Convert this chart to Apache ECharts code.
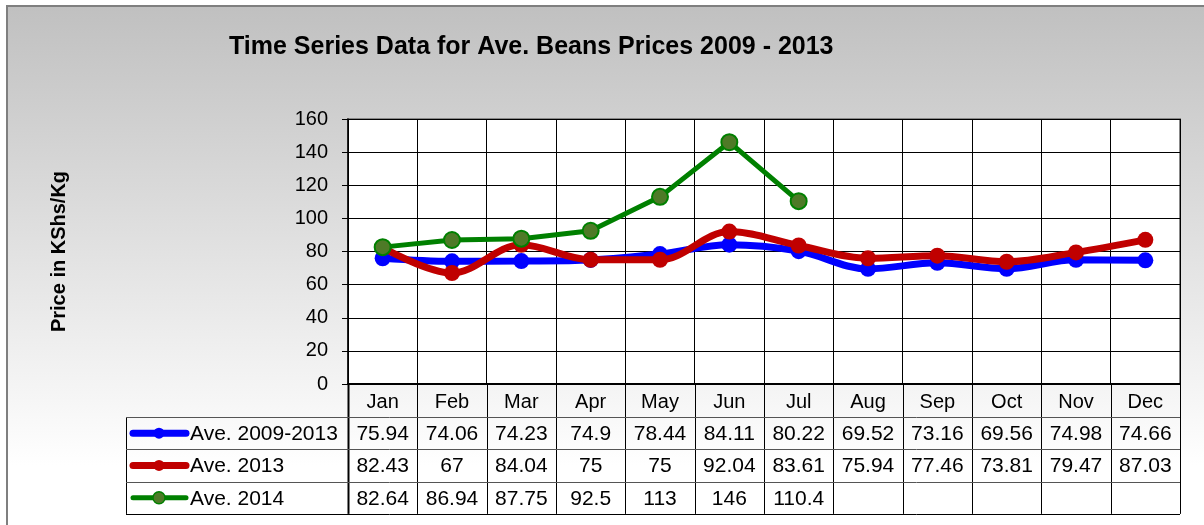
<!DOCTYPE html>
<html><head><meta charset="utf-8">
<script src="https://cdn.jsdelivr.net/npm/echarts@6/dist/echarts.min.js"></script>
<style>html,body{margin:0;padding:0;background:#fff}#c{width:1204px;height:525px}</style>
</head><body><div id="c"></div>
<script>
const chartTitle = 'Time Series Data for Ave. Beans Prices 2009 - 2013';
const yAxisName = 'Price in KShs/Kg';
const months = ['Jan','Feb','Mar','Apr','May','Jun','Jul','Aug','Sep','Oct','Nov','Dec'];
const seriesNames = ['Ave. 2009-2013','Ave. 2013','Ave. 2014'];
const ave20092013 = [75.94,74.06,74.23,74.9,78.44,84.11,80.22,69.52,73.16,69.56,74.98,74.66];
const ave2013 = [82.43,67,84.04,75,75,92.04,83.61,75.94,77.46,73.81,79.47,87.03];
const ave2014 = [82.64,86.94,87.75,92.5,113,146,110.4,null,null,null,null,null];
const yMin = 0, yMax = 160, yStep = 20;

const FONT = 'Liberation Sans, Arial, sans-serif';
const seriesData = [ave20092013, ave2013, ave2014];
const lineColors = ['#0000ff','#c00000','#008000'];
const markerFill = ['#0000ff','#c00000','#4e7a27'];
const lineWidths = [7,7,5];
const smoothFlags = [0.35,0.35,false];

const chart = echarts.init(document.getElementById('c'), null, {renderer:'canvas'});

const option = {
  animation:false,
  backgroundColor:'#ffffff',
  title:{
    text:chartTitle, left:224, top:30,
    textStyle:{fontFamily:FONT, fontSize:25, fontWeight:'bold', color:'#000'}
  },
  grid:{left:348, top:119, width:832, height:265, show:true, backgroundColor:'#ffffff', borderColor:'#888888', borderWidth:2, containLabel:false},
  xAxis:{
    type:'category', data:months, boundaryGap:true,
    axisLine:{show:true, lineStyle:{color:'#000', width:2}},
    axisTick:{show:false},
    axisLabel:{fontFamily:FONT, fontSize:20, color:'#000', margin:8, interval:0},
    splitLine:{show:true, interval:0, lineStyle:{color:'#000', width:1}}
  },
  yAxis:{
    type:'value', min:yMin, max:yMax, interval:yStep,
    name:yAxisName, nameLocation:'middle', nameGap:279, nameRotate:90,
    nameTextStyle:{fontFamily:FONT, fontSize:20, fontWeight:'bold', color:'#000'},
    axisLine:{show:true, lineStyle:{color:'#000', width:1.5}},
    axisTick:{show:true, length:6, lineStyle:{color:'#000'}},
    axisLabel:{fontFamily:FONT, fontSize:20, color:'#000', margin:20},
    splitLine:{show:true, lineStyle:{color:'#000', width:1}}
  },
  series: seriesNames.map((n,i)=>({
    name:n, type:'line', data:seriesData[i], smooth:smoothFlags[i],
    symbol:'circle', symbolSize:16, showSymbol:true,
    lineStyle:{color:lineColors[i], width:lineWidths[i]},
    itemStyle:{color:markerFill[i], borderColor:lineColors[i], borderWidth:i===2?2:0},
    z:2+i
  }))
};
chart.setOption(option);

// Build data table below the plot, from the axis scales
function buildTable(){
  const els = [];
  els.push({type:'rect', z:-10, silent:true, shape:{x:7, y:6, width:1220, height:540},
    style:{fill:new echarts.graphic.LinearGradient(0,0,0,1,[{offset:0,color:'#c0c0c0'},{offset:0.85,color:'#ffffff'},{offset:1,color:'#ffffff'}]), stroke:'#7f7f7f', lineWidth:2}});
  const x0 = chart.convertToPixel({xAxisIndex:0}, 0);
  const x1 = chart.convertToPixel({xAxisIndex:0}, 1);
  const cw = x1 - x0;
  const left = x0 - cw/2;
  const right = left + cw*months.length;
  const yBase = chart.convertToPixel({yAxisIndex:0}, yMin);
  const headH = 33, rowH = 32.3;
  const tableLeft = 126;
  const bottom = yBase + headH + rowH*seriesNames.length;
  for (let i=0;i<=months.length;i++){
    const x = Math.round(left + cw*i) + 0.5;
    els.push({type:'line', silent:true, shape:{x1:x, y1:yBase, x2:x, y2:bottom}, style:{stroke:'#000', lineWidth:i===0?2:1}});
  }
  els.push({type:'line', silent:true, shape:{x1:tableLeft+0.5, y1:yBase+headH, x2:tableLeft+0.5, y2:bottom}, style:{stroke:'#000', lineWidth:1}});
  for (let r=0;r<=seriesNames.length;r++){
    const y = Math.round(yBase + headH + rowH*r) + 0.5;
    els.push({type:'line', silent:true, shape:{x1:tableLeft, y1:y, x2:right, y2:y}, style:{stroke:r===seriesNames.length?'#000':'#555', lineWidth:1}});
  }
  seriesNames.forEach((n,r)=>{
    const cy = yBase + headH + rowH*r + rowH/2;
    els.push({type:'line', silent:true, shape:{x1:133, y1:cy, x2:186, y2:cy}, style:{stroke:lineColors[r], lineWidth:r===2?5:7, lineCap:'round'}});
    els.push({type:'circle', silent:true, shape:{cx:159, cy:cy, r:r===2?6:5.5}, style:{fill:markerFill[r], stroke:lineColors[r], lineWidth:r===2?1.5:0}});
    els.push({type:'text', silent:true, x:190, y:cy+1, style:{text:n, font:'21px '+FONT, fill:'#000', align:'left', verticalAlign:'middle', textAlign:'left', textVerticalAlign:'middle'}});
    seriesData[r].forEach((v,i)=>{
      if (v===null || v===undefined) return;
      const cx = chart.convertToPixel({xAxisIndex:0}, i);
      els.push({type:'text', silent:true, x:cx, y:cy+1, style:{text:String(v), font:'21px '+FONT, fill:'#000', align:'center', verticalAlign:'middle', textAlign:'center', textVerticalAlign:'middle'}});
    });
  });
  chart.setOption({graphic:{elements:els}});
}
buildTable();
</script></body></html>
